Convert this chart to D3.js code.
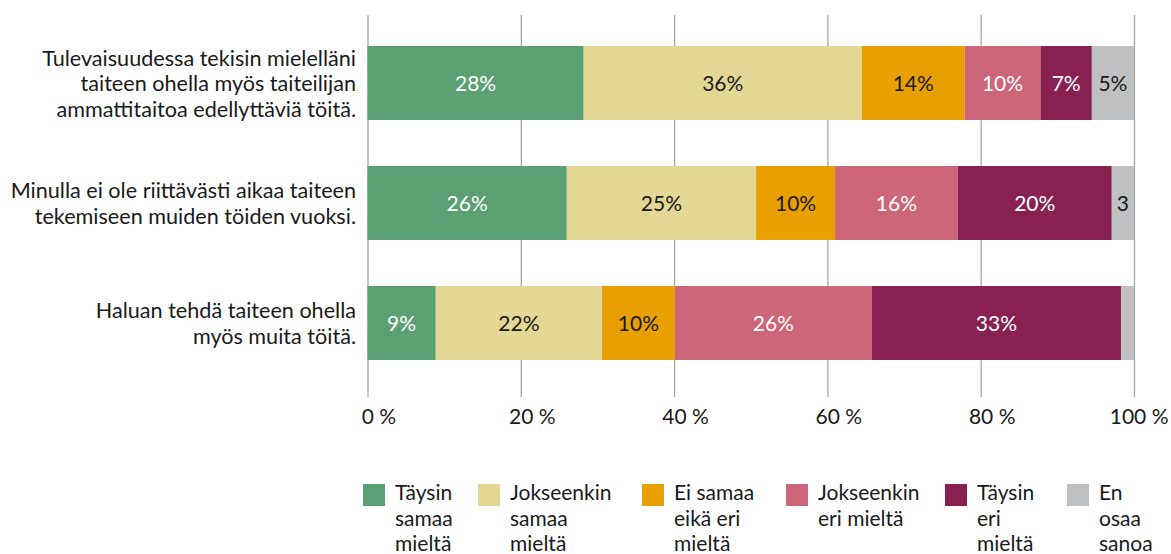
<!DOCTYPE html>
<html>
<head>
<meta charset="utf-8">
<script src="https://cdn.jsdelivr.net/npm/d3@7"></script>
<style>
  body { margin: 0; background: #fff; }
  svg text { font-family: Lato, "Open Sans", sans-serif; }
</style>
</head>
<body>
<svg id="chart" width="1171" height="554"></svg>
<script>
// statements (wrapped lines as shown on the chart)
var categories = [
  ["Tulevaisuudessa tekisin mielelläni", "taiteen ohella myös taiteilijan", "ammattitaitoa edellyttäviä töitä."],
  ["Minulla ei ole riittävästi aikaa taiteen", "tekemiseen muiden töiden vuoksi."],
  ["Haluan tehdä taiteen ohella", "myös muita töitä."]
];
var seriesNames = [
  ["Täysin", "samaa", "mieltä"],
  ["Jokseenkin", "samaa", "mieltä"],
  ["Ei samaa", "eikä eri", "mieltä"],
  ["Jokseenkin", "eri mieltä"],
  ["Täysin", "eri", "mieltä"],
  ["En", "osaa", "sanoa"]
];
var colors = ["#5aa072", "#e3d795", "#e89f00", "#cd6678", "#882052", "#bfc0c2"];
var labelColors = ["#fff", "#1a1a1a", "#1a1a1a", "#fff", "#fff", "#1a1a1a"];

// widths of segments (share of answers, %), one array per series
var taysinSamaa = [28.2, 26.0, 8.9];
var jokseenkinSamaa = [36.3, 24.7, 21.7];
var eiSamaaEikaEri = [13.4, 10.3, 9.5];
var jokseenkinEri = [9.9, 16.0, 25.7];
var taysinEri = [6.7, 20.1, 32.5];
var enOsaa = [5.5, 2.9, 1.7];
// printed labels
var labels = [
  [28, 36, 14, 10, 7, 5],
  [26, 25, 10, 16, 20, 3],
  [9, 22, 10, 26, 33, 2]
];
var ticks = [0, 20, 40, 60, 80, 100];

var series = [taysinSamaa, jokseenkinSamaa, eiSamaaEikaEri, jokseenkinEri, taysinEri, enOsaa];
var legendX = [363, 478, 642, 786, 945, 1067];
var fs = 21;

var svg = d3.select("#chart");
var x = d3.scaleLinear().domain([0, 100]).range([367.5, 1134]);
var y = d3.scaleBand().domain(d3.range(categories.length)).range([23, 383]).paddingInner(0.3833).paddingOuter(0.1917);

// gridlines + tick labels
var axis = d3.axisBottom(x).tickValues(ticks).tickFormat(function(d) { return d + " %"; })
  .tickSize(-382).tickPadding(12);
var ag = svg.append("g").attr("transform", "translate(0,397)").call(axis);
ag.select(".domain").remove();
ag.selectAll("line").attr("stroke", "#a6a6a6").attr("stroke-width", 1.3);
ag.selectAll("text").attr("font-size", fs).attr("fill", "#1a1a1a").attr("font-family", "Lato")
  .attr("dx", 11)
  .each(function(d) {
    // keep the last label inside the picture
    var b = this.getBBox();
    var over = x(d) + b.x + b.width - 1168;
    if (over > 0) d3.select(this).attr("dx", 11 - over);
  });

// stacked rows
var rows = categories.map(function(c, i) {
  var acc = 0;
  return series.map(function(s, j) {
    var seg = {row: i, k: j, x0: acc, x1: acc + s[i], label: labels[i][j]};
    acc += s[i];
    return seg;
  });
});

var g = svg.append("g");
rows.forEach(function(row) {
  var rg = g.append("g");
  rg.selectAll("rect").data(row).enter().append("rect")
    .attr("x", function(d) { return x(d.x0); })
    .attr("y", function(d) { return y(d.row); })
    .attr("width", function(d) { return x(d.x1) - x(d.x0); })
    .attr("height", y.bandwidth())
    .attr("fill", function(d) { return colors[d.k]; });
  rg.selectAll("text").data(row).enter().append("text")
    .attr("x", function(d) { return (x(d.x0) + x(d.x1)) / 2; })
    .attr("y", function(d) { return y(d.row) + y.bandwidth() / 2; })
    .attr("dy", "0.36em")
    .attr("text-anchor", "middle")
    .attr("font-size", fs)
    .attr("fill", function(d) { return labelColors[d.k]; })
    .text(function(d) { return d.label + "%"; })
    .each(function(d) {
      var w = x(d.x1) - x(d.x0);
      var t = d3.select(this);
      if (this.getComputedTextLength() > w - 2) t.text(d.label);
      if (this.getComputedTextLength() > w - 2) t.remove();
    });
});

// category labels
var lineH = 25.5;
categories.forEach(function(lines, i) {
  var cy = y(i) + y.bandwidth() / 2;
  svg.append("text")
    .attr("text-anchor", "end")
    .attr("font-size", 21.6)
    .attr("fill", "#1a1a1a")
    .selectAll("tspan").data(lines).enter().append("tspan")
    .attr("x", 356)
    .attr("y", function(d, k) { return cy + (k - (lines.length - 1) / 2) * lineH; })
    .attr("dy", "0.38em")
    .text(function(d) { return d; });
});

// legend
var lg = svg.append("g");
seriesNames.forEach(function(lines, j) {
  lg.append("rect").attr("x", legendX[j]).attr("y", 484).attr("width", 22).attr("height", 22)
    .attr("fill", colors[j]);
  lg.append("text").attr("font-size", fs).attr("fill", "#1a1a1a")
    .selectAll("tspan").data(lines).enter().append("tspan")
    .attr("x", legendX[j] + 32)
    .attr("y", function(d, k) { return 500 + k * 25.5; })
    .text(function(d) { return d; });
});
</script>
</body>
</html>
